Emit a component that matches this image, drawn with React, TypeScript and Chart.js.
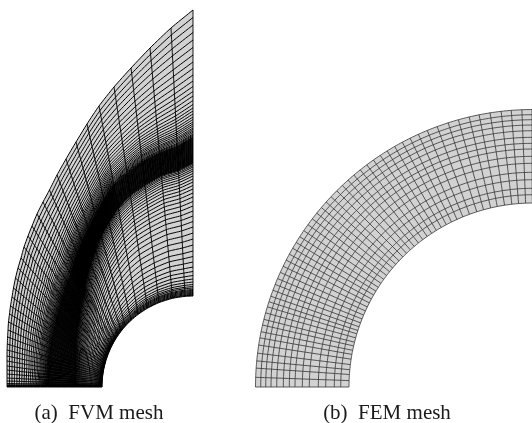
import { useEffect, useRef } from "react";
import { Chart, registerables } from "chart.js";

Chart.register(...registerables);

/* ---------- (a) FVM mesh: structured grid ---------- */
const fvmCaption = "(a)  FVM mesh";
const fvmOuterX = [193,171,150,131,114,99,87,76,66,57,49.5,43,37,32,28,24,21,18,15.5,13.5,12,10.5,9.5,8.5,8,7.6,7.3,7.1,7,7,7,7,7,7,7,7,7,7,7,7,7];
const fvmOuterY = [10,28,48,68,87,106,124,142,159,175,190,202,214,226,236,247,258,268,278,288,297,306,314,322,330,337,344,350,356,361,366,370,374,378,381,383.5,384.8,385.5,386,386.5,387];
const fvmBodyAngle = [0,5,13,22,30,37,43,48,52,55.5,58.5,61,63.5,65.5,67.5,69.5,71,72.5,74,75.5,76.5,77.5,78.5,79.5,80.5,81.2,82,82.8,83.5,84.2,85,85.8,86.5,87.2,88,88.6,89,89.3,89.5,89.8,90];
const fvmBandStart = [.465,.47,.49,.5,.51,.51,.5,.49,.47,.45,.43,.41,.38,.37,.36,.35,.34,.335,.33,.325,.32,.315,.31,.305,.3,.3,.295,.295,.29,.29,.29,.29,.29,.29,.29,.29,.29,.29,.29,.29,.29];
const fvmBandEnd = [.556,.56,.58,.6,.61,.62,.61,.6,.59,.58,.57,.555,.54,.54,.535,.535,.53,.53,.53,.53,.535,.535,.54,.54,.545,.545,.55,.55,.55,.55,.55,.555,.555,.56,.56,.565,.565,.57,.57,.57,.57];
// layer heights read along the right-hand edge of the mesh
const fvmOuterLayers = [10,17.5,25,32.5,40,47.5,55,62,68.5,75,81,86.5,91.5,96,100.5,104.5,108,111,114,117,119.5,122,124,126,128,129.5,131,132.5,134,135,136,137];
const fvmBandLayers = [137.5,138,138.5,139,139.5,140,140.5,141,141.5,142,142.5,143,143.5,144,144.5,145,145.5,146,146.5,147,147.5,148,148.5,149,149.5,150,150.5,151,151.5,152,152.5,153,153.5,154,154.5,155,155.5,156,156.5,157,157.5,158,158.5,159,159.5,160,160.5,161,161.5,162,162.5];
const fvmInnerLayers = [163,164,165.5,167,169,171,173.5,176,179,182,185.5,189,193,197,201.5,206,211,216,221.5,227,233,239,245,251,256.5,262,267,271.5,275.5,279,282,284.5,286.5,288,289.5,290.5,291.5,292.5,293.5,294.5,295.3,296];
const fvmBodyCenter = { x: 193, y: 387 };
const fvmBodyRadius = 91;

/* ---------- (b) FEM mesh ---------- */
const femCaption = "(b)  FEM mesh";
const femCenter = { x: 533, y: 387 };
const femRadii = [277.5,272.3,267.3,262,256.3,249.7,243.7,238,230.7,223.7,214.7,207.3,198.7,192.3,184];
const femAngles = [0,2,3.9,5.4,7,8.7,10.2,11.5,12.9,14.1,15.5,16.8,17.9,19.1,20.4,21.7,23,24.4,25.8,27.2,28.6,30,31.4,32.8,34.3,35.8,37.3,38.8,40.3,41.8,43.3,45,46.6,48.2,49.8,51.5,53.2,54.9,56.6,58.3,60.1,61.9,63.7,65.6,67.6,69.8,72.2,74.4,76.7,78.8,81.1,83.4,85.5,87.7,89.8];

const fillGray = "#d2d2d2";
const rad = (d: number) => (d * Math.PI) / 180;

type P = { x: number; y: number };

function fvmPoint(s: number, f: number): P {
  const a = rad(fvmBodyAngle[s]);
  const ix = fvmBodyCenter.x - fvmBodyRadius * Math.sin(a);
  const iy = fvmBodyCenter.y - fvmBodyRadius * Math.cos(a);
  return { x: ix + (fvmOuterX[s] - ix) * f, y: iy + (fvmOuterY[s] - iy) * f };
}

function fvmFraction(s: number, y: number): number {
  if (y <= 137) return fvmBandEnd[s] + ((137 - y) / 127) * (1 - fvmBandEnd[s]);
  if (y >= 163) return (fvmBandStart[s] * (296 - y)) / 133;
  return fvmBandStart[s] + ((163 - y) / 26) * (fvmBandEnd[s] - fvmBandStart[s]);
}

function line(data: P[], color: string, width: number) {
  return { data, showLine: true, pointRadius: 0, tension: 0.2, borderColor: color, borderWidth: width, fill: false, order: 1 };
}

function shape(data: P[]) {
  return { data, showLine: true, pointRadius: 0, tension: 0.001, borderWidth: 0, borderColor: "transparent", backgroundColor: fillGray, fill: "shape", order: 2 };
}

function fvmDatasets() {
  const stations = fvmOuterX.map((_, s) => s);
  const inner = stations.map((s) => fvmPoint(s, 0));
  const outer = stations.map((s) => fvmPoint(s, 1));
  const out: any[] = [];
  const layers = [...fvmOuterLayers, ...fvmBandLayers, ...fvmInnerLayers];
  for (const y of layers) out.push(line(stations.map((s) => fvmPoint(s, fvmFraction(s, y))), "#000000", 1));
  for (const s of stations) out.push(line([fvmPoint(s, 0), fvmPoint(s, 1)], "#000000", 0.9));
  out.push(shape([...outer, ...inner.reverse()]));
  return out;
}

function femPoint(r: number, deg: number): P {
  const a = rad(deg);
  return { x: femCenter.x - r * Math.cos(a), y: femCenter.y - r * Math.sin(a) };
}

function femDatasets() {
  const ro = femRadii[0];
  const ri = femRadii[femRadii.length - 1];
  const outer = femAngles.map((d) => femPoint(ro, d));
  const inner = femAngles.map((d) => femPoint(ri, d)).reverse();
  const out: any[] = [];
  for (const r of femRadii) out.push(line(femAngles.map((d) => femPoint(r, d)), "#333333", 0.8));
  for (const d of femAngles) out.push(line([femPoint(ro, d), femPoint(ri, d)], "#333333", 0.8));
  out.push(shape([...outer, ...inner]));
  return out;
}

function Panel({ left, width, xMin, caption, build }: { left: number; width: number; xMin: number; caption: string; build: () => any[] }) {
  const ref = useRef<HTMLCanvasElement>(null);
  useEffect(() => {
    const chart = new Chart(ref.current!, {
      type: "scatter",
      data: { datasets: build() },
      options: {
        animation: false,
        responsive: false,
        layout: { padding: 0 },
        scales: {
          x: { type: "linear", display: false, min: xMin, max: xMin + width },
          y: { type: "linear", display: false, min: 0, max: 390, reverse: true },
        },
        plugins: {
          legend: { display: false },
          tooltip: { enabled: false },
          title: {
            display: true,
            position: "bottom",
            text: caption,
            color: "#1a1a1a",
            font: { family: "'Liberation Serif'", size: 21, weight: "normal", lineHeight: 1 },
            padding: { top: 13, bottom: -1 },
          },
        },
      },
    } as any);
    return () => chart.destroy();
  }, []);
  return <canvas ref={ref} width={width} height={423} style={{ position: "absolute", left, top: 0, width, height: 423, display: "block" }} />;
}

export default function App() {
  return (
    <div style={{ position: "fixed", left: 0, top: 0, width: 532, height: 423, background: "#fff", overflow: "hidden" }}>
      <Panel left={0} width={198} xMin={0} caption={fvmCaption} build={fvmDatasets} />
      <Panel left={242} width={290} xMin={242} caption={femCaption} build={femDatasets} />
    </div>
  );
}
